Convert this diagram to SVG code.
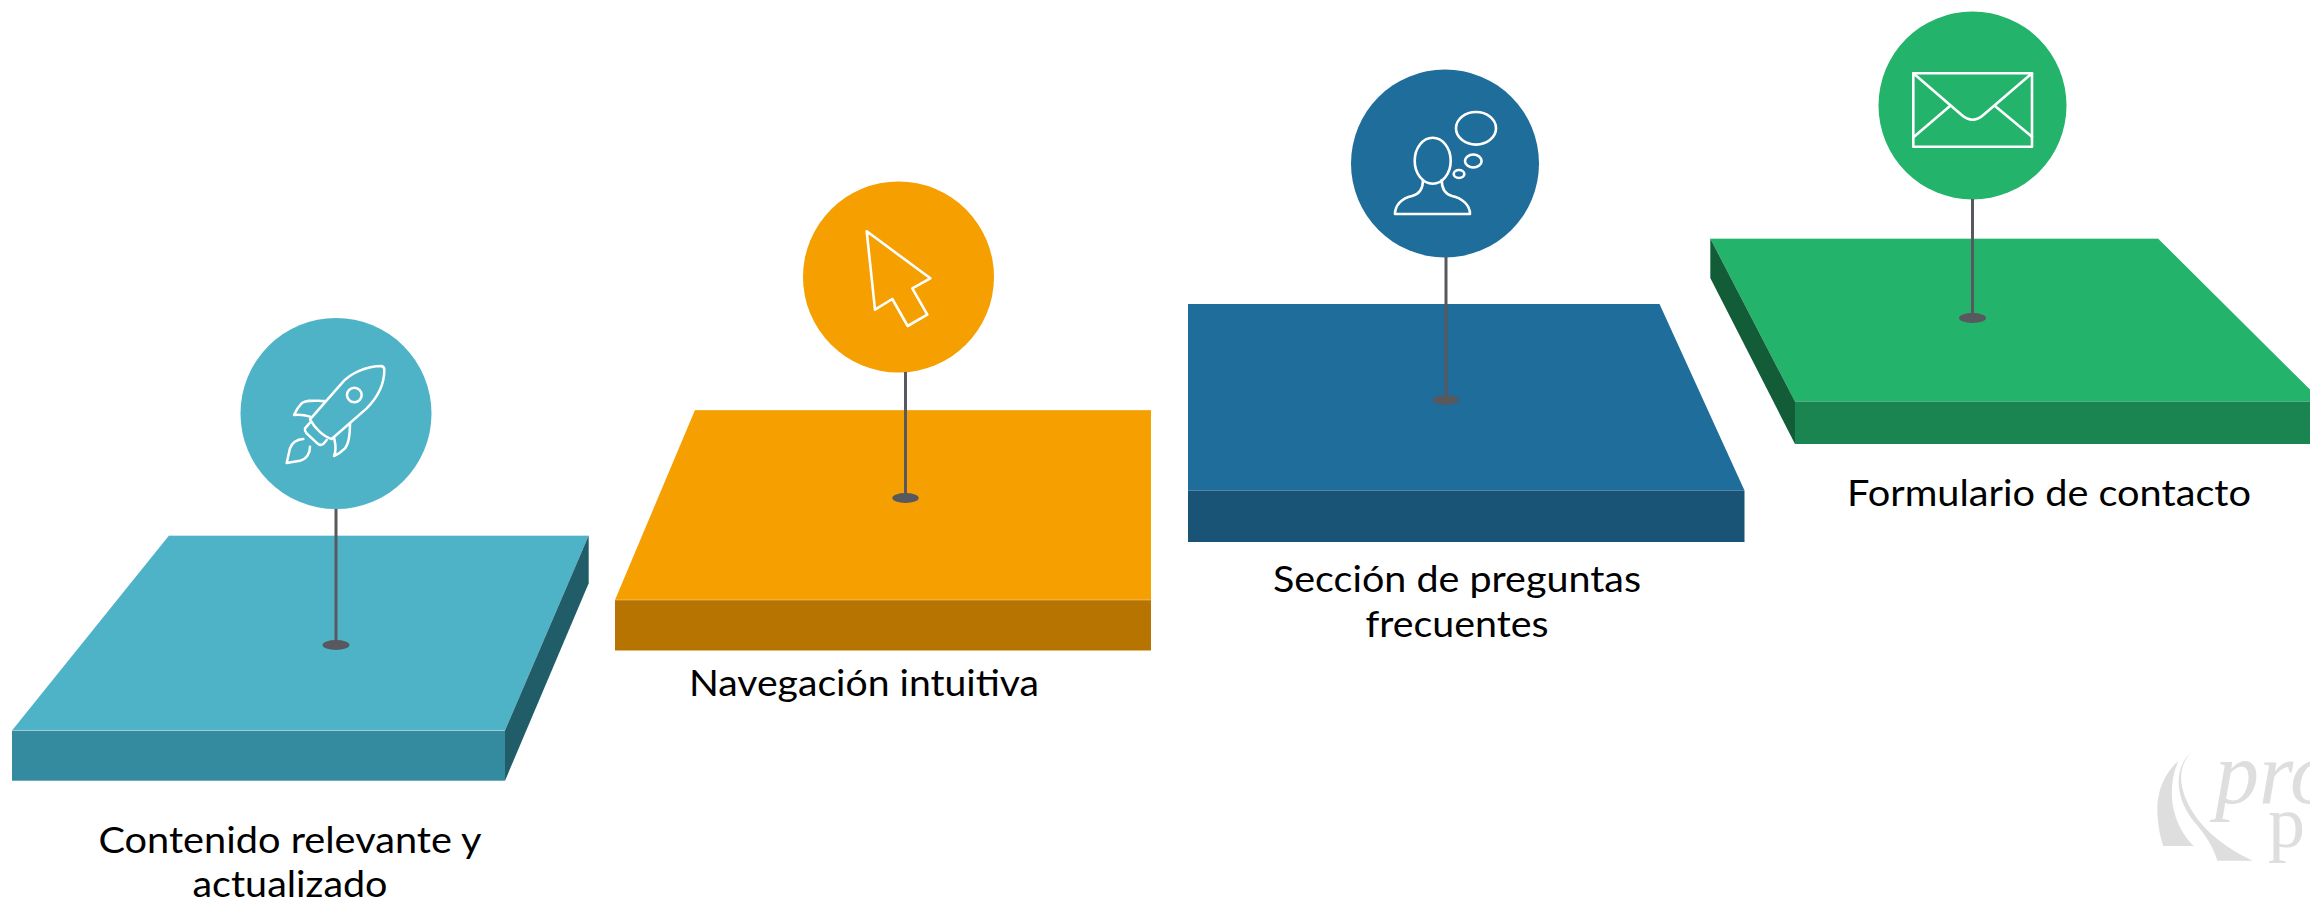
<svg xmlns="http://www.w3.org/2000/svg" width="2310" height="902" viewBox="0 0 2310 902">
<style>
text{font-family:"Lato","Open Sans","Liberation Sans",sans-serif;font-size:36px;fill:#000;text-anchor:middle}
.ic{fill:none;stroke:#fff;stroke-width:2.6;stroke-linejoin:round;stroke-linecap:round}
.edge{fill:none;stroke:#fff;stroke-opacity:.35;stroke-width:1}
.stem{stroke:#58585f;stroke-width:3;fill:none}
.foot{fill:#58585f}
.wm{fill:#dedede}
text.wt{font-family:"Liberation Serif",serif;fill:#dedede;text-anchor:start}
</style>
<rect width="2310" height="902" fill="#fff"/>
<g id="node-contenido">
<polygon points="169,535.5 588.7,535.5 505,730.5 12,730.5" fill="#4fb3c8"/>
<rect x="12" y="730.5" width="493" height="50.2" fill="#348a9e"/>
<polygon points="588.7,535.5 588.7,583.3 505,780.7 505,730.5" fill="#205d69"/>
<path class="edge" d="M169 535.5H588.7M12 730.5H505"/>
<circle cx="336" cy="413.5" r="95.5" fill="#4fb3c8"/>
<g transform="translate(260 340) scale(.3333)" class="ic" style="stroke-width:7.5">
<path d="M150 238L245 130C270 100 320 78 365 78Q373 80 373 90C373 130 355 170 320 205L215 297C190 290 165 265 150 238Z"/>
<path d="M150 248L135 265Q133 272 140 280L172 310Q180 318 190 312L200 300"/>
<path d="M195 183C165 183 140 178 125 190Q110 205 102 225Q125 222 150 230"/>
<path d="M270 250C270 280 268 310 255 325Q240 340 222 348C232 325 225 310 222 292"/>
<path d="M130 297C110 297 95 310 90 325L80 369L120 362C140 358 150 340 150 320"/>
<circle cx="283" cy="165" r="22"/>
</g>
<text x="290" y="853.3" textLength="383" lengthAdjust="spacingAndGlyphs">Contenido relevante y</text>
<text x="290" y="897.3" textLength="195" lengthAdjust="spacingAndGlyphs">actualizado</text>
</g>
<g id="node-navegacion">
<polygon points="695,410 1151,410 1151,600 615,600" fill="#f59f00"/>
<rect x="615" y="600" width="536" height="50.5" fill="#b87400"/>
<path class="edge" d="M695 410H1151M615 600H1151"/>
<circle cx="898.5" cy="277" r="95.5" fill="#f59f00"/>
<polygon class="ic" points="866.7,231.3 930.3,278.3 912.3,288.3 927.3,314.7 907.7,326 892.3,299 875,309.7"/>
<text x="864" y="695.5" textLength="350" lengthAdjust="spacingAndGlyphs">Navegación intuitiva</text>
</g>
<g id="node-preguntas">
<polygon points="1188,304 1659.5,304 1744.5,490.5 1188,490.5" fill="#1f6d9b"/>
<rect x="1188" y="490.5" width="556.5" height="51.5" fill="#195476"/>
<circle cx="1445" cy="163.5" r="94" fill="#1f6d9b"/>
<g class="ic">
<ellipse cx="1476" cy="128.3" rx="20" ry="16.3"/>
<ellipse cx="1473.3" cy="161" rx="8.3" ry="6.5"/>
<ellipse cx="1459" cy="174" rx="5.3" ry="4"/>
<ellipse cx="1432.7" cy="160.7" rx="18" ry="23"/>
<path d="M1423 180C1423 188 1420 194 1412 196C1402 198 1395 205 1395 214H1470C1470 205 1462 198 1452 196C1445 194 1441.7 188 1441.7 180"/>
</g>
<text x="1457" y="591.5" textLength="368" lengthAdjust="spacingAndGlyphs">Sección de preguntas</text>
<text x="1457" y="637" textLength="183" lengthAdjust="spacingAndGlyphs">frecuentes</text>
</g>
<g id="node-formulario">
<polygon points="1710.3,238.5 2158,238.5 2322,401.5 1795,401.5" fill="#23b36b"/>
<polygon points="1710.3,238.5 1710.3,278 1795,444 1795,401.5" fill="#125c37"/>
<rect x="1795" y="401.5" width="515" height="42.5" fill="#1b8551"/>
<path class="edge" d="M1710.3 238.5H2158"/>
<circle cx="1972.5" cy="105.5" r="94" fill="#23b36b"/>
<g class="ic">
<rect x="1913.3" y="73.3" width="118.7" height="73.4"/>
<path d="M1913.3 73.3L1961.7 115Q1972.7 124.5 1983.3 115L2032 73.3M1950 106L1914 136.7M1995 106L2032 136.7"/>
</g>
<text x="2049" y="505.5" textLength="404" lengthAdjust="spacingAndGlyphs">Formulario de contacto</text>
</g>
<g id="connectors">
<path class="stem" d="M336 509V645"/><ellipse class="foot" cx="336" cy="645" rx="13.5" ry="5"/>
<path class="stem" d="M905.5 372V498"/><ellipse class="foot" cx="905.5" cy="498" rx="13.2" ry="5"/>
<path class="stem" d="M1446 257V400"/><ellipse class="foot" cx="1446" cy="400" rx="13.3" ry="5"/>
<path class="stem" d="M1972.5 199V318"/><ellipse class="foot" cx="1972.5" cy="318" rx="13.5" ry="5"/>
</g>
<g id="watermark">
<path class="wm" transform="translate(2130 730) scale(.3333)" d="M145 92C105 130 82 180 82 235C82 280 90 320 100 348H192C140 300 100 200 145 92Z"/>
<path class="wm" transform="translate(2130 730) scale(.3333)" d="M185 67C130 110 130 210 205 290C225 315 250 350 262 392H368C280 350 200 290 165 200C145 150 150 100 185 67Z"/>
<text class="wt" x="2215" y="803" font-style="italic" style="font-size:88px">pro</text>
<text class="wt" x="2268" y="847" style="font-size:74px">p</text>
</g>
</svg>
